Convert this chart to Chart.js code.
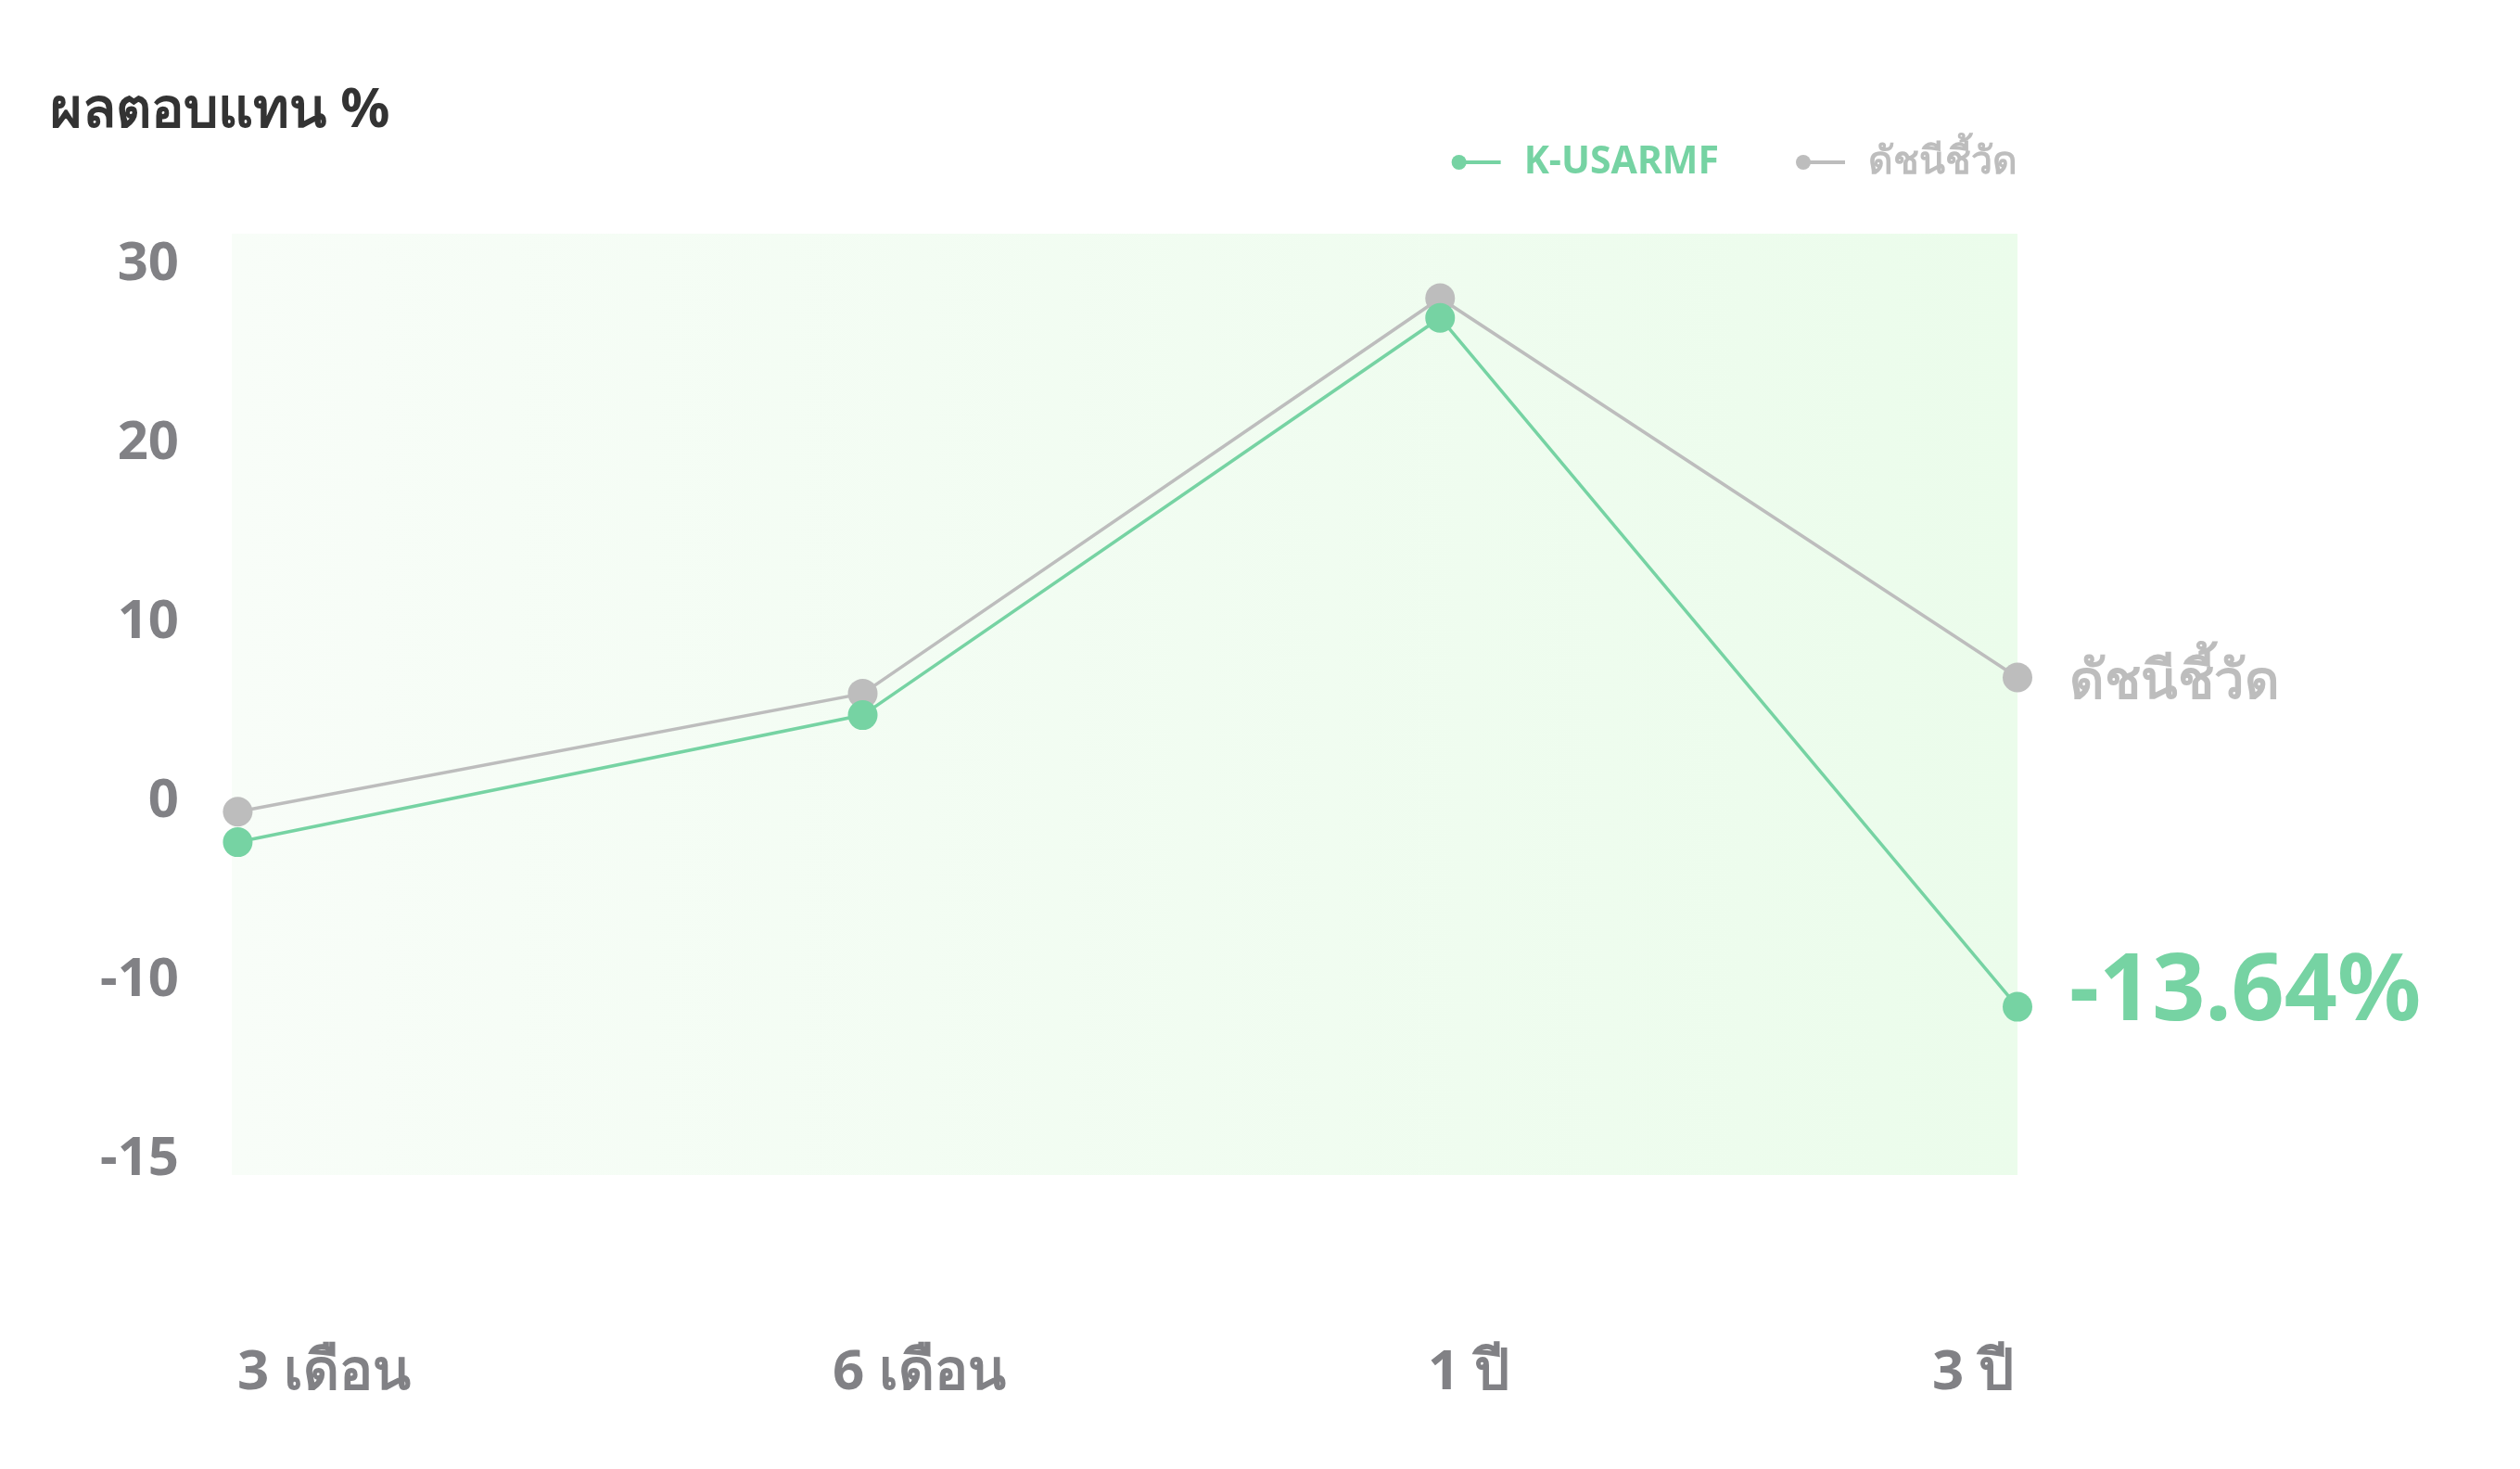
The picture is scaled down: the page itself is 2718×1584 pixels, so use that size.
<!DOCTYPE html>
<html lang="th">
<head>
  <meta charset="UTF-8" />
  <title>ผลตอบแทน %</title>
  <script src="https://cdn.jsdelivr.net/npm/chart.js"></script>
  <style>
    html, body { margin: 0; padding: 0; background: #fff; }
    #chart { display: block; }
  </style>
</head>
<body>
  <canvas id="chart" width="2718" height="1584"></canvas>

  <script>
    // data
    const periods = ['3 เดือน', '6 เดือน', '1 ปี', '3 ปี'];
    const periodPos = [0.01, 1.06, 2.03, 3];   // where each point sits along the x axis
    const fundName = 'K-USARMF';
    const fundReturns = [-2.5, 4.6, 26.8, -11.7];
    const benchName = 'ดัชนีชี้วัด';
    const benchReturns = [-0.8, 5.8, 27.9, 6.7];
    const yTicks = [30, 20, 10, 0, -10, -20];
    const yTickLabels = ['30', '20', '10', '0', '-10', '-15'];
    const fundEndLabel = '-13.64%';
    const titleText = 'ผลตอบแทน %';

    const FONT = "'Noto Sans', sans-serif";
    const GREEN = '#76d3a3';
    const GREY = '#bdbdbd';
    const AXIS = '#818185';

    // background, title, legend, x labels and end labels
    const decor = {
      id: 'decor',
      beforeDatasetsDraw(chart) {
        const { ctx, chartArea: a } = chart;
        const g = ctx.createLinearGradient(a.left, 0, a.right, 0);
        g.addColorStop(0, '#f8fdf8');
        g.addColorStop(1, '#ebfceb');
        ctx.save();
        ctx.fillStyle = g;
        ctx.fillRect(a.left, a.top, a.right - a.left, a.bottom - a.top);
        ctx.restore();
      },
      afterDraw(chart) {
        const { ctx, chartArea: a } = chart;
        ctx.save();

        // title
        ctx.font = `bold 59px ${FONT}`;
        ctx.fillStyle = '#333333';
        ctx.textAlign = 'left';
        ctx.textBaseline = 'alphabetic';
        ctx.fillText(titleText, 54, 137);

        // legend, laid out from the right edge of the plot
        ctx.font = `bold 41px ${FONT}`;
        ctx.textBaseline = 'middle';
        let right = a.right;
        const ly = 175;
        chart.data.datasets.slice().reverse().forEach(ds => {
          const w = ctx.measureText(ds.label).width;
          const tx = right - w;
          ctx.fillStyle = ds.borderColor;
          ctx.fillText(ds.label, tx, ly);
          const lineEnd = tx - 25;
          const dotX = lineEnd - 45;
          ctx.strokeStyle = ds.borderColor;
          ctx.lineWidth = 4;
          ctx.beginPath();
          ctx.moveTo(dotX, ly);
          ctx.lineTo(lineEnd, ly);
          ctx.stroke();
          ctx.beginPath();
          ctx.arc(dotX, ly, 8, 0, Math.PI * 2);
          ctx.fill();
          right = dotX - 91;
        });

        // x labels: left aligned on their tick, the last one right aligned
        const xs = chart.scales.x;
        ctx.font = `bold 60px ${FONT}`;
        ctx.fillStyle = AXIS;
        ctx.textBaseline = 'alphabetic';
        periods.forEach((p, i) => {
          const px = xs.getPixelForValue(i);
          ctx.textAlign = i === periods.length - 1 ? 'right' : 'left';
          ctx.fillText(p, i === periods.length - 1 ? px - 4 : px + 6, a.bottom + 231);
        });

        // labels at the end of each line
        const benchPt = chart.getDatasetMeta(1).data[3];
        const fundPt = chart.getDatasetMeta(0).data[3];
        ctx.textAlign = 'left';
        ctx.font = `bold 58px ${FONT}`;
        ctx.fillStyle = GREY;
        ctx.fillText(benchName, benchPt.x + 56, benchPt.y + 22);
        ctx.font = `bold 100px ${FONT}`;
        ctx.fillStyle = GREEN;
        ctx.fillText(fundEndLabel, fundPt.x + 56, fundPt.y + 14);

        ctx.restore();
      }
    };

    const toPoints = vals => vals.map((v, i) => ({ x: periodPos[i], y: v }));

    new Chart(document.getElementById('chart'), {
      type: 'line',
      data: {
        datasets: [
          {
            label: fundName,
            data: toPoints(fundReturns),
            borderColor: GREEN,
            backgroundColor: GREEN,
            borderWidth: 3.5,
            pointRadius: 16,
            pointHoverRadius: 16,
            pointBorderWidth: 0,
            tension: 0,
            clip: false
          },
          {
            label: benchName,
            data: toPoints(benchReturns),
            borderColor: GREY,
            backgroundColor: GREY,
            borderWidth: 3.5,
            pointRadius: 16,
            pointHoverRadius: 16,
            pointBorderWidth: 0,
            tension: 0,
            clip: false
          }
        ]
      },
      options: {
        responsive: false,
        devicePixelRatio: 1,
        animation: false,
        events: [],
        layout: { padding: { left: 0, top: 252, right: 542, bottom: 317 } },
        plugins: {
          legend: { display: false },
          title: { display: false },
          tooltip: { enabled: false }
        },
        scales: {
          x: { type: 'linear', min: 0, max: 3, display: false },
          y: {
            min: -21.1,
            max: 31.5,
            afterBuildTicks: ax => { ax.ticks = yTicks.map(v => ({ value: v })); },
            afterFit: ax => { ax.width = 250; },
            grid: { display: false, drawTicks: false },
            border: { display: false },
            ticks: {
              padding: 57,
              labelOffset: 5,
              color: AXIS,
              font: { family: FONT, size: 58, weight: 'bold' },
              callback: v => yTickLabels[yTicks.indexOf(v)]
            }
          }
        }
      },
      plugins: [decor]
    });
  </script>
</body>
</html>
